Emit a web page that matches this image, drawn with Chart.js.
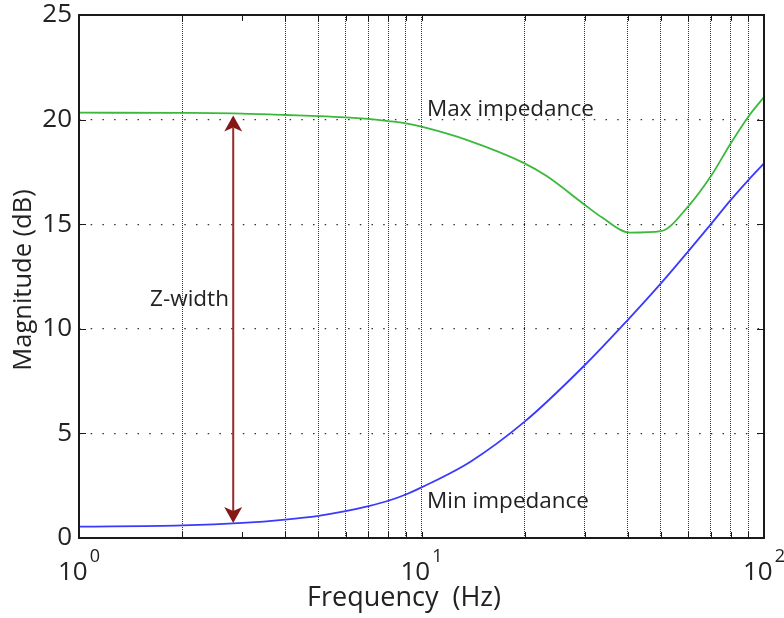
<!DOCTYPE html>
<html>
<head>
<meta charset="utf-8">
<script src="https://cdn.jsdelivr.net/npm/chart.js@4/dist/chart.umd.min.js"></script>
<style>
  html, body { margin: 0; padding: 0; background: #fff; }
  canvas { display: block; }
</style>
</head>
<body>
<canvas id="chart" width="784" height="618"></canvas>
<script>
// values
const maxFreq = [1, 2, 3, 4, 5, 6, 7, 8, 9, 10, 13.6, 20, 23.2, 30, 33.6, 40.6, 50, 60, 70, 80, 90, 100];
const maxMag  = [20.33, 20.32, 20.29, 20.22, 20.17, 20.11, 20.03, 19.93, 19.82, 19.66, 19.02, 17.91, 17.3, 15.92, 15.33, 14.6, 14.67, 15.84, 17.3, 18.87, 20.14, 21.08];

const minFreq = [1, 2, 3, 4, 5, 6, 7, 8, 9, 10, 13.9, 20, 30, 40, 50, 60, 70, 80, 90, 100];
const minMag  = [0.54, 0.6, 0.72, 0.88, 1.06, 1.28, 1.52, 1.78, 2.08, 2.42, 3.65, 5.56, 8.27, 10.42, 12.17, 13.69, 15.0, 16.16, 17.11, 17.91];

const xTickValues = [1, 2, 3, 4, 5, 6, 7, 8, 9, 10, 20, 30, 40, 50, 60, 70, 80, 90, 100];
const xDecades = [1, 10, 100];
const yTickValues = [0, 5, 10, 15, 20, 25];

// Z-width arrow
const zWidthFreq = 2.82;
const zWidthRange = [0.72, 20.2];

const labels = [
  { text: 'Max impedance', freq: 10.38, mag: 20.47, align: 'left' },
  { text: 'Min impedance', freq: 10.38, mag: 1.73, align: 'left' },
  { text: 'Z-width', freq: 2.74, mag: 11.4, align: 'right' }
];

const font = '"Open Sans", "DejaVu Sans", sans-serif';
const ink = '#222';

const toPoints = (xs, ys) => xs.map((x, i) => ({ x, y: ys[i] }));

const decorPlugin = {
  id: 'decor',
  afterDatasetsDraw(chart) {
    const ctx = chart.ctx;
    const xs = chart.scales.x, ys = chart.scales.y;

    // arrow
    const ax = xs.getPixelForValue(zWidthFreq);
    const yTop = ys.getPixelForValue(zWidthRange[1]);
    const yBot = ys.getPixelForValue(zWidthRange[0]);
    const head = 16, half = 9, notch = 4;
    ctx.save();
    ctx.strokeStyle = '#972a2a';
    ctx.fillStyle = '#861717';
    ctx.lineWidth = 2;
    ctx.beginPath();
    ctx.moveTo(ax, yTop + head - notch);
    ctx.lineTo(ax, yBot - head + notch);
    ctx.stroke();
    ctx.beginPath();
    ctx.moveTo(ax, yTop);
    ctx.lineTo(ax + half, yTop + head);
    ctx.lineTo(ax, yTop + head - notch);
    ctx.lineTo(ax - half, yTop + head);
    ctx.closePath();
    ctx.fill();
    ctx.beginPath();
    ctx.moveTo(ax, yBot);
    ctx.lineTo(ax + half, yBot - head);
    ctx.lineTo(ax, yBot - head + notch);
    ctx.lineTo(ax - half, yBot - head);
    ctx.closePath();
    ctx.fill();
    ctx.restore();

    // text labels
    ctx.save();
    ctx.fillStyle = ink;
    ctx.font = '22.5px ' + font;
    ctx.textBaseline = 'middle';
    labels.forEach(l => {
      ctx.textAlign = l.align;
      ctx.fillText(l.text, xs.getPixelForValue(l.freq), ys.getPixelForValue(l.mag));
    });
    ctx.restore();
  },
  afterDraw(chart) {
    const ctx = chart.ctx;
    const xs = chart.scales.x, ys = chart.scales.y;
    const a = chart.chartArea;
    ctx.save();
    ctx.strokeStyle = '#1a1a1a';
    ctx.lineWidth = 1;
    ctx.beginPath();
    xTickValues.forEach(v => {
      if (v === 1 || v === 100) return;
      const px = Math.round(xs.getPixelForValue(v)) + 0.5;
      ctx.moveTo(px, a.bottom); ctx.lineTo(px, a.bottom - 6);
      ctx.moveTo(px, a.top); ctx.lineTo(px, a.top + 6);
    });
    yTickValues.forEach(v => {
      if (v === 0 || v === 25) return;
      const py = Math.round(ys.getPixelForValue(v)) + 0.5;
      ctx.moveTo(a.left, py); ctx.lineTo(a.left + 7, py);
      ctx.moveTo(a.right, py); ctx.lineTo(a.right - 7, py);
    });
    ctx.stroke();
    ctx.lineWidth = 2;
    ctx.strokeRect(a.left, a.top, a.right - a.left, a.bottom - a.top);

    // x tick labels with exponents
    ctx.fillStyle = ink;
    ctx.textBaseline = 'alphabetic';
    xDecades.forEach(v => {
      const px = xs.getPixelForValue(v);
      const exp = String(Math.round(Math.log10(v)));
      ctx.font = '26px ' + font;
      const baseW = ctx.measureText('10').width;
      ctx.font = '18px ' + font;
      const expW = ctx.measureText(exp).width;
      const left = px - (baseW + 2 + expW) / 2;
      ctx.textAlign = 'left';
      ctx.font = '26px ' + font;
      ctx.fillText('10', left, a.bottom + 42);
      ctx.font = '18px ' + font;
      ctx.fillText(exp, left + baseW + 2, a.bottom + 24);
    });

    // axis titles
    ctx.textAlign = 'center';
    ctx.textBaseline = 'middle';
    ctx.font = '27px ' + font;
    ctx.fillText('Frequency  (Hz)', 404, 598);
    ctx.font = '25.5px ' + font;
    ctx.translate(24, 280);
    ctx.rotate(-Math.PI / 2);
    ctx.fillText('Magnitude (dB)', 0, 0);
    ctx.restore();
  }
};

new Chart(document.getElementById('chart'), {
  type: 'line',
  data: {
    datasets: [
      {
        label: 'Max impedance',
        data: toPoints(maxFreq, maxMag),
        borderColor: '#3cb93c',
        borderWidth: 1.8,
        pointRadius: 0,
        cubicInterpolationMode: 'monotone'
      },
      {
        label: 'Min impedance',
        data: toPoints(minFreq, minMag),
        borderColor: '#3a3aff',
        borderWidth: 1.8,
        pointRadius: 0,
        cubicInterpolationMode: 'monotone'
      }
    ]
  },
  options: {
    responsive: false,
    devicePixelRatio: 1,
    animation: false,
    layout: { padding: { left: 0, top: 15, right: 20, bottom: 0 } },
    plugins: { legend: { display: false }, tooltip: { enabled: false } },
    scales: {
      x: {
        type: 'logarithmic',
        min: 1,
        max: 100,
        afterBuildTicks: s => { s.ticks = xTickValues.map(v => ({ value: v })); },
        afterFit: s => { s.height = 80; s.paddingLeft = 0; s.paddingRight = 0; },
        ticks: { display: false },
        grid: {
          drawTicks: false,
          color: c => (c.tick && [1, 3, 100].includes(c.tick.value)) ? 'rgba(0,0,0,0)' : '#333',
          lineWidth: 1
        },
        border: { display: false, dash: [1, 1] }
      },
      y: {
        min: 0,
        max: 25,
        afterBuildTicks: s => { s.ticks = yTickValues.map(v => ({ value: v })); },
        afterFit: s => { s.width = 79; s.paddingTop = 0; s.paddingBottom = 0; },
        ticks: {
          padding: 7,
          color: ink,
          font: { family: font, size: 26 }
        },
        grid: {
          drawTicks: false,
          color: c => (c.tick && (c.tick.value === 0 || c.tick.value === 25)) ? 'rgba(0,0,0,0)' : '#333',
          lineWidth: 1.2
        },
        border: { display: false, dash: [1.5, 10.2] }
      }
    }
  },
  plugins: [decorPlugin]
});
</script>
</body>
</html>
